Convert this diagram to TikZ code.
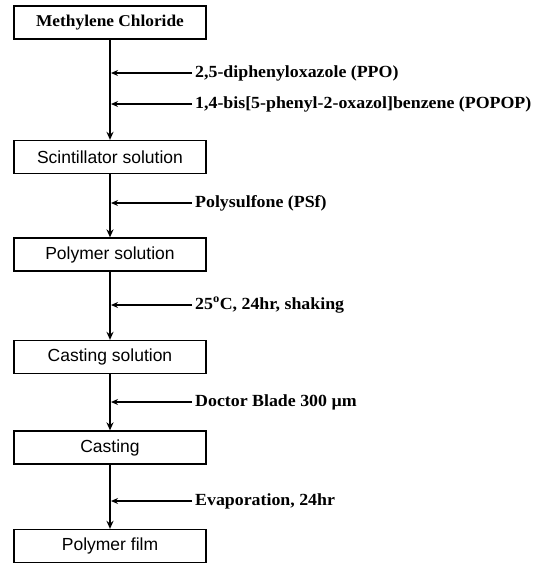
\documentclass[tikz,border=0pt]{standalone}
\usepackage{fontspec}
\setmainfont{Liberation Serif}
\setsansfont{Liberation Sans}
\newfontfamily\stepfont{Liberation Serif}[FakeStretch=1.05]
\usetikzlibrary{arrows.meta}

\tikzset{
  stagebox/.style={draw, line width=1.3pt, minimum width=192pt, minimum height=33pt,
    inner sep=0pt, font=\sffamily\fontsize{17.5}{20}\selectfont},
  addlabel/.style={anchor=west, inner sep=0pt, font=\stepfont\bfseries\fontsize{17}{20}\selectfont},
  flow/.style={line width=2.2pt, -{Stealth[length=8pt, width=7pt]}},
  feed/.style={line width=1.5pt, -{Stealth[length=7pt, width=6pt]}}
}

\begin{document}
\begin{tikzpicture}[x=1pt, y=-1pt]

  \useasboundingbox (0,0) rectangle (545,563);

  % ============================================================
  % Stages (box centres, y measured downward)
  % ============================================================
  \node[stagebox, font=\stepfont\bfseries\fontsize{16.5}{19}\selectfont]
        (mc)      at (110,22.5) {Methylene Chloride};
  \node[stagebox] (scint)   at (110,157)   {Scintillator solution};
  \node[stagebox] (polysol) at (110,254.5) {Polymer solution};
  \node[stagebox] (castsol) at (110,357)   {Casting solution};
  \node[stagebox] (cast)    at (110,447.5) {Casting};
  \node[stagebox] (film)    at (110,546)   {Polymer film};

  % main flow
  \foreach \a/\b in {mc/scint, scint/polysol, polysol/castsol, castsol/cast, cast/film}
    \draw[flow] (\a.south) -- (\b.north);

  % ============================================================
  % Additions / conditions fed in from the right
  % ============================================================
  \node[addlabel] (ppo)   at (195,73)  {2,5-diphenyloxazole (PPO)};
  \node[addlabel] (popop) at (195,104) {1,4-bis[5-phenyl-2-oxazol]benzene (POPOP)};
  \node[addlabel] (psf)   at (195,203) {Polysulfone (PSf)};
  \node[addlabel] (shake) at (195,305) {25\textsuperscript{o}C, 24hr, shaking};
  \node[addlabel] (blade) at (195,402) {Doctor Blade 300 µm};
  \node[addlabel] (evap)  at (195,501) {Evaporation, 24hr};

  \foreach \n in {ppo, popop, psf, shake, blade, evap}
    \draw[feed, shorten <=3pt, shorten >=1pt] (\n.west) -- (\n.west -| mc.south);

\end{tikzpicture}
\end{document}
